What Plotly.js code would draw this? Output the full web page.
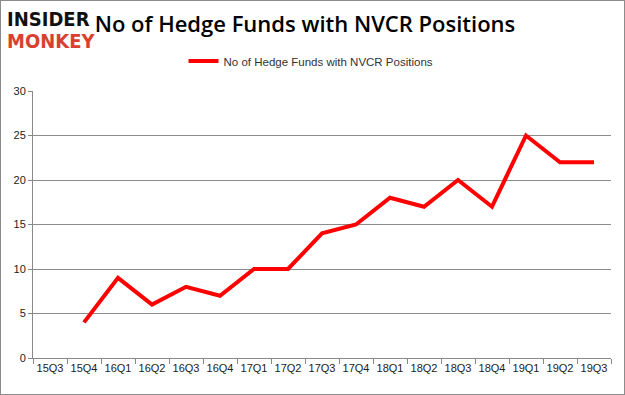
<!DOCTYPE html>
<html><head><meta charset="utf-8">
<script src="https://cdn.plot.ly/plotly-3.0.1.min.js"></script>
<style>
html,body{margin:0;padding:0;background:#fff;}
#wrap{position:relative;width:625px;height:395px;}
#chart{width:625px;height:395px;}
#frame{position:absolute;left:0;top:0;width:625px;height:395px;box-sizing:border-box;border:1px solid #8c8c8c;pointer-events:none;}
</style></head>
<body>
<div id="wrap"><div id="chart"></div><div id="frame"></div></div>
<script>
const quarters = ["15Q3","15Q4","16Q1","16Q2","16Q3","16Q4","17Q1","17Q2","17Q3","17Q4","18Q1","18Q2","18Q3","18Q4","19Q1","19Q2","19Q3"];
const funds = [null,4,9,6,8,7,10,10,14,15,18,17,20,17,25,22,22];
const yTicks = [0,5,10,15,20,25,30];
const seriesName = "No of Hedge Funds with NVCR Positions";

const trace = {
  x: quarters, y: funds, type: "scatter", mode: "lines",
  name: seriesName, connectgaps: false,
  line: {color: "#ff0000", width: 4}
};
const tickFont = {family: "Liberation Sans, Arial, sans-serif", size: 11, color: "#222"};
const layout = {
  width: 625, height: 395,
  margin: {l: 33, r: 14, t: 91, b: 37},
  paper_bgcolor: "#fff", plot_bgcolor: "#fff",
  showlegend: true,
  legend: {orientation: "h", x: 0.481, xanchor: "center", y: 1.112, yanchor: "middle",
           font: {family: "Liberation Sans, Arial, sans-serif", size: 11.5, color: "#333"}},
  title: {text: "No of Hedge Funds with NVCR Positions", x: 0.488, xanchor: "center", xref: "container",
          y: 0.939, yref: "container", yanchor: "middle",
          font: {family: "Open Sans, sans-serif", size: 22, color: "#000", weight: 600}},
  xaxis: {
    type: "category", range: [-0.5, 16.5], tickson: "boundaries", tickangle: 0,
    ticks: "outside", ticklen: 5, tickcolor: "#888", showgrid: false,
    showline: true, linecolor: "#888", linewidth: 1,
    tickfont: tickFont, fixedrange: true
  },
  yaxis: {
    range: [0, 30], tickvals: yTicks, ticks: "outside", ticklen: 4, tickcolor: "#888",
    showgrid: true, gridcolor: "#8c8c8c", gridwidth: 1, zeroline: false,
    showline: true, linecolor: "#888", linewidth: 1,
    tickfont: tickFont, fixedrange: true
  },
  annotations: [
    {text: "<b>INSIDER</b>", xref: "paper", yref: "paper", x: -0.048, y: 1.27, xanchor: "left", yanchor: "middle",
     showarrow: false, font: {family: "DejaVu Sans Condensed, DejaVu Sans, sans-serif", size: 20, color: "#111"}},
    {text: "<b>MONKEY</b>", xref: "paper", yref: "paper", x: -0.048, y: 1.187, xanchor: "left", yanchor: "middle",
     showarrow: false, font: {family: "DejaVu Sans Condensed, DejaVu Sans, sans-serif", size: 20, color: "#d9412e"}}
  ]
};
Plotly.newPlot("chart", [trace], layout, {displayModeBar: false, staticPlot: true});
</script>
</body></html>
